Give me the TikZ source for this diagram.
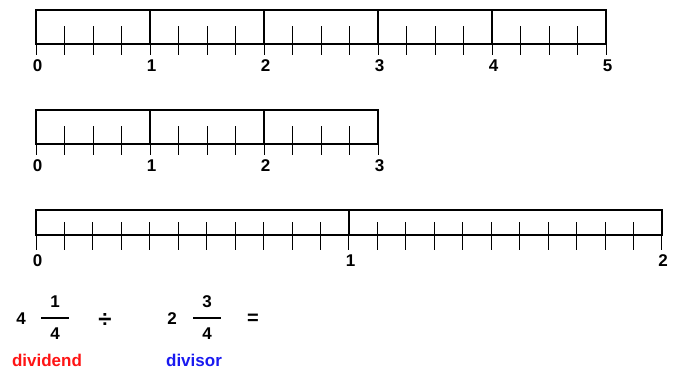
\documentclass[tikz,border=0pt]{standalone}
\usepackage{fontspec}
\setmainfont{Liberation Sans}
\definecolor{lblred}{RGB}{255,20,20}
\definecolor{lblblue}{RGB}{25,25,240}
\begin{document}
\begin{tikzpicture}[x=1pt,y=-1pt,
  boxline/.style={line width=2pt, line join=miter},
  tk/.style={line width=1pt},
  lab/.style={font=\bfseries\fontsize{17}{17}\selectfont, inner sep=0pt, anchor=center},
  fbar/.style={line width=2.2pt}]
\useasboundingbox (0,0) rectangle (682,372);
% ---------- row 1: 0..5 ----------
\foreach \i in {0,...,20} \draw[tk] ({36+28.5*\i},26) -- ({36+28.5*\i},55);
\draw[boxline] (36,10) rectangle (606,44);
\foreach \i in {1,...,4} \draw[boxline] ({36+114*\i},10) -- ({36+114*\i},44);
\foreach \i in {0,...,5} \node[lab] (ra\i) at ({37.5+114*\i},66) {\i};
% ---------- row 2: 0..3 ----------
\foreach \i in {0,...,12} \draw[tk] ({36+28.5*\i},126) -- ({36+28.5*\i},155);
\draw[boxline] (36,110) rectangle (378,144);
\foreach \i in {1,2} \draw[boxline] ({36+114*\i},110) -- ({36+114*\i},144);
\foreach \i in {0,...,3} \node[lab] (rb\i) at ({37.5+114*\i},166) {\i};
% ---------- row 3: 0..2 (unit = 11 quarters) ----------
\foreach \i in {0,...,22} \draw[tk] ({36+28.45*\i},222) -- ({36+28.45*\i},250);
\draw[boxline] (36,209.5) rectangle (662,234.5);
\draw[boxline] (349,209.5) -- (349,234.5);
\node[lab] (rc0) at (37.5,261) {0};
\node[lab] (rc1) at (350.5,261) {1};
\node[lab] (rc2) at (663,261) {2};
% ---------- expression ----------
\node[lab] (w1) at (21,319) {4};
\node[lab] (n1) at (55,302) {1};
\draw[fbar] (41,318) -- (69,318);
\node[lab] (d1) at (55,334) {4};
\node[lab, font=\bfseries\fontsize{24}{24}\selectfont] (dv) at (105,320) {÷};
\node[lab] (w2) at (172,319) {2};
\node[lab] (n2) at (207,302) {3};
\draw[fbar] (193,318) -- (221,318);
\node[lab] (d2) at (207,334) {4};
\node[lab, font=\bfseries\fontsize{20}{20}\selectfont] (eq) at (253,319) {=};
\node[lab, text=lblred] (dividend) at (47,360) {dividend};
\node[lab, text=lblblue] (divisor) at (194,360) {divisor};
\end{tikzpicture}
\end{document}
